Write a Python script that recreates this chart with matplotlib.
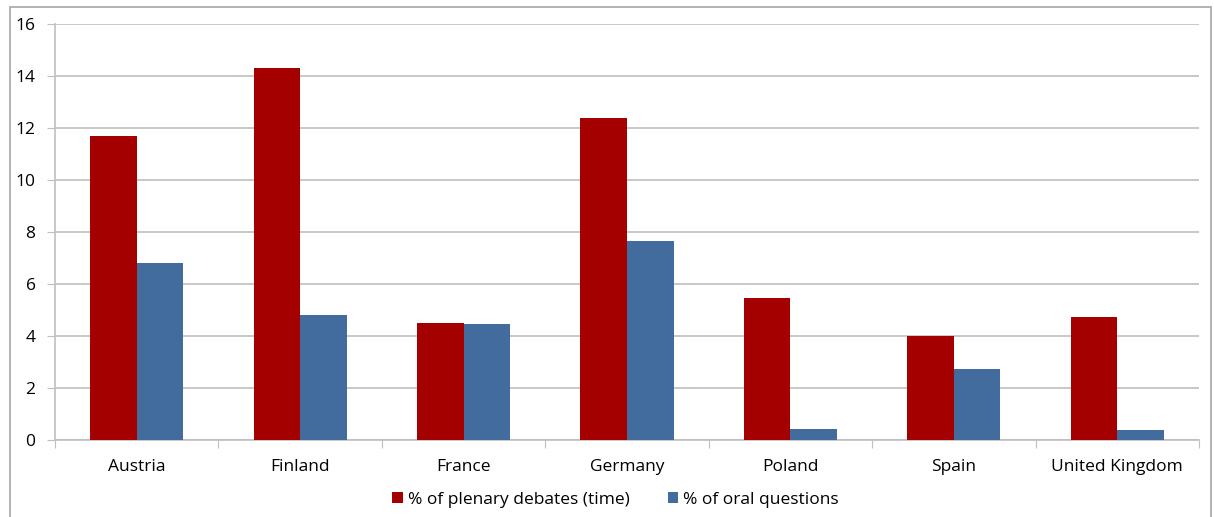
import numpy as np
import matplotlib.pyplot as plt
from matplotlib.patches import Rectangle

# Datos
countries = ["Austria", "Finland", "France", "Germany", "Poland", "Spain", "United Kingdom"]
plenary_debates = [11.7, 14.3, 4.5, 12.4, 5.45, 4.0, 4.73]
oral_questions = [6.8, 4.8, 4.47, 7.65, 0.42, 2.73, 0.38]
yticks = [0, 2, 4, 6, 8, 10, 12, 14, 16]

red = "#A50000"
blue = "#426C9E"
grid_gray = "#BFBFBF"

plt.rcParams["font.family"] = ["Open Sans", "DejaVu Sans"]

fig = plt.figure(figsize=(12.14, 5.17), dpi=100)
ax = fig.add_axes([55/1214, 1 - 440/517, (1199 - 55)/1214, (440 - 24)/517])

# Marco exterior del gráfico
fig.patches.append(Rectangle((10/1214, -0.05), (1211 - 10)/1214, 1.05 - 7/517,
                             transform=fig.transFigure, fill=False,
                             edgecolor="#A6A6A6", linewidth=1.2))

x = np.arange(len(countries))
w = 0.285
ax.bar(x - w/2, plenary_debates, w, color=red, label="% of plenary debates (time)", zorder=3)
ax.bar(x + w/2, oral_questions, w, color=blue, label="% of oral questions", zorder=3)

ax.set_xlim(-0.5, len(countries) - 0.5)
ax.set_ylim(0, 16)
ax.set_yticks(yticks)
ax.yaxis.grid(True, color=grid_gray, linewidth=1.2, zorder=0)
ax.tick_params(axis="y", length=6, color=grid_gray, labelsize=12.5, pad=8)

# Marcas del eje x en los límites de categoría, etiquetas en el centro
ax.set_xticks(np.arange(len(countries) + 1) - 0.5)
ax.set_xticklabels([])
ax.set_xticks(x, minor=True)
ax.set_xticklabels(countries, minor=True)
ax.tick_params(axis="x", which="major", length=6, color=grid_gray)
ax.tick_params(axis="x", which="minor", length=0, labelsize=12.5, pad=14)

for s in ["top", "right"]:
    ax.spines[s].set_visible(False)
ax.spines["left"].set_color(grid_gray)
ax.spines["bottom"].set_color(grid_gray)
ax.spines["left"].set_linewidth(1.2)
ax.spines["bottom"].set_linewidth(1.2)

fig.legend(loc="center", bbox_to_anchor=(0.507, 0.033), ncol=2, frameon=False,
           fontsize=12.5, handlelength=0.6, handleheight=0.6, handletextpad=0.3,
           columnspacing=2.2)

fig.savefig("out.png", dpi=100)
